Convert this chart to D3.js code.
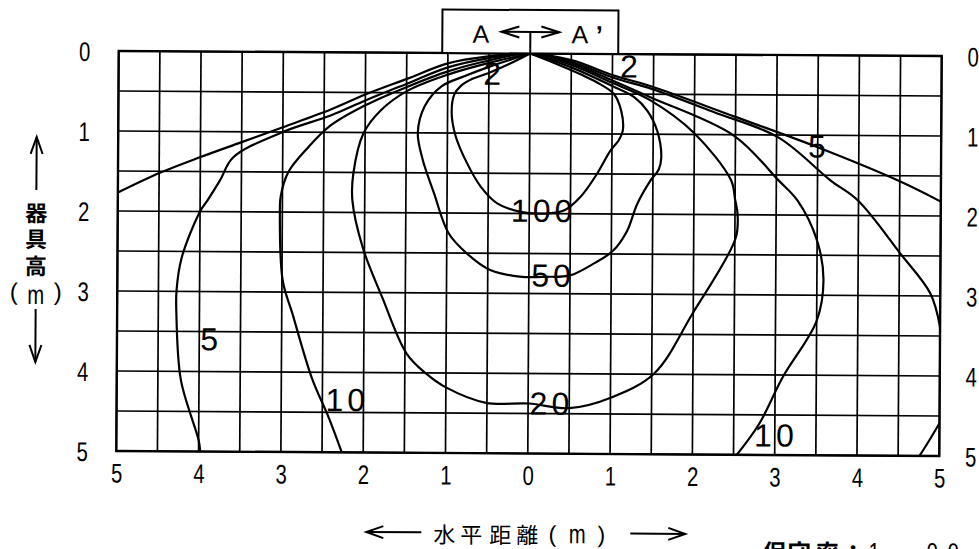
<!DOCTYPE html>
<html><head><meta charset="utf-8">
<script src="https://cdn.jsdelivr.net/npm/d3@7/dist/d3.min.js"></script>
<style>body{margin:0;background:#fff}svg{display:block}</style>
</head><body>
<svg id="chart" width="979" height="549"></svg>
<script>
// ---------- data ----------
const xTicks = [-5,-4,-3,-2,-1,0,1,2,3,4,5];
const yTicks = [0,1,2,3,4,5];

// isolux contours: [horizontal distance (m), height below fixture (m)]
const contour2 = [[-5,1.77],[-4.49,1.52],[-4.0,1.32],[-3.5,1.13],[-3.0,0.94],[-2.42,0.715],[-2.0,0.525],[-1.48,0.32],[-1.0,0.13],[-0.51,0.04],[0,0],[0.5,0.08],[1.02,0.27],[1.47,0.40],[2.48,0.77],[3.5,1.15],[4.48,1.56],[5.0,1.82]];
const contour5 = [[-3.98,5.0],[-4.0,4.86],[-4.22,4.11],[-4.28,3.28],[-4.28,2.99],[-4.22,2.58],[-4.0,2.0],[-3.91,1.86],[-3.76,1.61],[-3.6,1.32],[-3.0,1.0],[-2.42,0.79],[-2.0,0.60],[-1.48,0.38],[-1.0,0.18],[-0.5,0.06],[0,0],[0.5,0.10],[1.02,0.30],[1.47,0.43],[2.24,0.72],[3.02,1.03],[3.66,1.565],[3.99,1.81],[4.51,2.47],[4.88,2.97],[5.0,3.39]];
const contour5Corner = [[5.0,4.59],[4.88,4.80],[4.76,5.0]];
const contour10 = [[-2.26,5.0],[-2.42,4.57],[-2.63,4.07],[-2.87,3.27],[-2.99,2.86],[-3.03,2.05],[-3.02,1.8],[-2.93,1.5],[-2.7,1.2],[-2.42,0.915],[-2.0,0.66],[-1.5,0.43],[-1.0,0.23],[-0.5,0.09],[0,0],[0.5,0.12],[1.0,0.33],[1.47,0.54],[2.48,1.01],[3.03,1.57],[3.26,1.82],[3.5,2.32],[3.58,2.81],[3.5,3.32],[3.09,4.03],[2.81,4.61],[2.54,5.0]];
const contour20 = [[0,0],[-0.5,0.12],[-1.0,0.27],[-1.48,0.47],[-1.81,0.72],[-2.02,1.01],[-2.14,1.51],[-2.15,1.85],[-2.02,2.44],[-1.78,3.06],[-1.48,3.76],[-1.24,4.01],[-1.0,4.18],[-0.51,4.37],[0.01,4.375],[0.5,4.43],[1.02,4.29],[1.53,3.99],[1.99,3.24],[2.51,2.29],[2.53,1.98],[2.50,1.81],[2.45,1.57],[1.99,0.975],[1.47,0.58],[1.0,0.36],[0.5,0.14],[0,0]];
const contour50 = [[0,0],[-0.5,0.17],[-0.8,0.29],[-1.08,0.42],[-1.28,0.67],[-1.36,1.0],[-1.30,1.33],[-1.16,1.75],[-0.98,2.25],[-0.76,2.5],[-0.47,2.71],[-0.11,2.79],[0.21,2.79],[0.5,2.77],[0.78,2.625],[1.02,2.46],[1.19,2.21],[1.31,1.875],[1.47,1.58],[1.57,1.44],[1.60,1.29],[1.55,0.96],[1.43,0.71],[1.27,0.54],[1.0,0.40],[0.5,0.17],[0,0]];
const contour100 = [[0,0],[-0.25,0.13],[-0.51,0.25],[-0.70,0.32],[-0.84,0.41],[-0.92,0.52],[-0.95,0.75],[-0.90,1.04],[-0.76,1.375],[-0.59,1.67],[-0.39,1.875],[-0.11,1.98],[0.17,2.0],[0.42,1.96],[0.62,1.79],[0.82,1.5],[0.98,1.21],[1.08,1.08],[1.13,0.96],[1.11,0.71],[1.02,0.5],[0.82,0.36],[0.62,0.26],[0.30,0.12],[0,0]];
const contours = [contour2, contour5, contour5Corner, contour10, contour20, contour50, contour100];

// contour value labels: [text, x (m), y (m)] (label centre)
const contourLabels = [["100",0.15,1.96],["50",0.27,2.77],["20",0.26,4.37],["10",-2.22,4.34],["10",2.99,4.75],["5",-3.88,3.59],["5",3.49,1.135],["2",1.2,0.15],["2",-0.46,0.25]];

// ---------- drawing ----------
const svg = d3.select("#chart");
svg.append("rect").attr("width",979).attr("height",549).attr("fill","#fff");
const root = svg.append("g").attr("transform","rotate(0.35 529 254)");

const x = d3.scaleLinear().domain([-5,5]).range([117.5,940.5]);
const y = d3.scaleLinear().domain([0,5]).range([53.5,453.5]);
const NUM = "'Liberation Sans', Arial, sans-serif";
const CJK = "'Noto Sans CJK JP', 'Noto Sans CJK SC', sans-serif";

// grid
const grid = root.append("g").attr("stroke","#000").attr("stroke-width",1.7);
grid.selectAll("line.v").data(x.ticks(20)).join("line").attr("class","v")
  .attr("x1",d=>x(d)).attr("x2",d=>x(d)).attr("y1",y(0)).attr("y2",y(5));
grid.selectAll("line.h").data(y.ticks(10)).join("line").attr("class","h")
  .attr("y1",d=>y(d)).attr("y2",d=>y(d)).attr("x1",x(-5)).attr("x2",x(5));
root.append("rect").attr("x",x(-5)).attr("y",y(0)).attr("width",x(5)-x(-5)).attr("height",y(5)-y(0))
  .attr("fill","none").attr("stroke","#000").attr("stroke-width",2.4);

// clip for contours
svg.append("defs").append("clipPath").attr("id","plotclip").append("rect")
  .attr("x",x(-5)).attr("y",y(0)-3).attr("width",x(5)-x(-5)).attr("height",y(5)-y(0)+3);

const line = d3.line().x(d=>x(d[0])).y(d=>y(d[1])).curve(d3.curveCatmullRom.alpha(0.5));
root.append("g").attr("clip-path","url(#plotclip)")
  .selectAll("path").data(contours).join("path")
  .attr("d",line).attr("fill","none").attr("stroke","#000").attr("stroke-width",2.2)
  .attr("stroke-linejoin","round");

// contour labels
const LFS = 32, LS = 4;
root.append("g").selectAll("text").data(contourLabels).join("text")
  .attr("x",d=>x(d[1]) + LS/2).attr("y",d=>y(d[2]) + 0.36*LFS)
  .attr("text-anchor","middle").attr("font-family",NUM).attr("font-size",LFS)
  .attr("letter-spacing",LS).attr("fill","#000").text(d=>d[0]);

// axes (labels only)
const TFS = 27;
function styleAxis(g){
  g.select(".domain").remove();
  g.selectAll(".tick line").remove();
  g.selectAll(".tick text").attr("font-family",NUM).attr("font-size",TFS)
    .attr("fill","#000").attr("text-anchor","middle")
    .attr("transform","scale(0.75,1)");
}
const xAxis = d3.axisBottom(x).tickValues(xTicks).tickSize(0).tickFormat(d=>Math.abs(d));
root.append("g").attr("transform","translate(0,485)").call(xAxis).call(g=>{
  styleAxis(g); g.selectAll(".tick text").attr("y",0).attr("dy",0);
});
const yAxisL = d3.axisLeft(y).tickValues(yTicks).tickSize(0).tickFormat(d=>d);
root.append("g").attr("transform","translate(83.5,0)").call(yAxisL).call(g=>{
  styleAxis(g); g.selectAll(".tick text").attr("x",0).attr("dy",0).attr("y",0.36*TFS);
});
const yAxisR = d3.axisRight(y).tickValues(yTicks).tickSize(0).tickFormat(d=>d);
root.append("g").attr("transform","translate(972,0)").call(yAxisR).call(g=>{
  styleAxis(g); g.selectAll(".tick text").attr("x",0).attr("dy",0).attr("y",0.36*TFS);
});

// top box A <-> A'
root.append("rect").attr("x",441).attr("y",10).attr("width",176).attr("height",y(0)-10)
  .attr("fill","#fff").attr("stroke","#000").attr("stroke-width",2);
const topG = root.append("g").attr("stroke","#000").attr("fill","none").attr("stroke-width",2);
topG.append("line").attr("x1",500).attr("x2",558).attr("y1",32).attr("y2",32);
topG.append("polyline").attr("points","518,26.5 500,32 518,37.5");
topG.append("polyline").attr("points","540,26.5 558,32 540,37.5");
topG.append("line").attr("x1",x(0)).attr("x2",x(0)).attr("y1",32).attr("y2",y(0));
root.append("text").attr("x",479.5).attr("y",43).attr("text-anchor","middle")
  .attr("font-family",NUM).attr("font-size",25).text("A");
root.append("text").attr("x",578.5).attr("y",43).attr("text-anchor","middle")
  .attr("font-family",NUM).attr("font-size",25).text("A");
root.append("text").attr("x",598).attr("y",43).attr("text-anchor","middle")
  .attr("font-family",NUM).attr("font-size",25).attr("font-weight","bold").text("’");

// left title
const lt = root.append("g").attr("stroke","#000").attr("fill","none").attr("stroke-width",2);
lt.append("line").attr("x1",36).attr("x2",36).attr("y1",140).attr("y2",193);
lt.append("polyline").attr("points","30,157 36,140 42,157");
lt.append("line").attr("x1",36).attr("x2",36).attr("y1",312).attr("y2",365);
lt.append("polyline").attr("points","30,348 36,365 42,348");
[["器",216],["具",242],["高",269]].forEach(([c,cy])=>{
  root.append("text").attr("x",36).attr("y",cy+8.4).attr("text-anchor","middle")
    .attr("font-family",CJK).attr("font-size",22).attr("font-weight","bold").text(c);
});
root.append("text").attr("x",14).attr("y",303).attr("text-anchor","middle")
  .attr("font-family",NUM).attr("font-size",24).text("(");
root.append("text").attr("x",58).attr("y",303).attr("text-anchor","middle")
  .attr("font-family",NUM).attr("font-size",24).text(")");
root.append("g").attr("transform","translate(36,307) scale(0.75,1)").append("text")
  .attr("text-anchor","middle").attr("font-family",NUM).attr("font-size",27).text("m");

// bottom title
const bt = root.append("g").attr("stroke","#000").attr("fill","none").attr("stroke-width",2);
bt.append("line").attr("x1",368).attr("x2",423).attr("y1",533).attr("y2",533);
bt.append("polyline").attr("points","385,527 368,533 385,539");
bt.append("line").attr("x1",632).attr("x2",687).attr("y1",533).attr("y2",533);
bt.append("polyline").attr("points","670,527 687,533 670,539");
[["水",446],["平",473],["距",502],["離",529]].forEach(([c,cx])=>{
  root.append("text").attr("x",cx).attr("y",543.4).attr("text-anchor","middle")
    .attr("font-family",CJK).attr("font-size",22).text(c);
});
root.append("text").attr("x",554).attr("y",542).attr("text-anchor","middle")
  .attr("font-family",NUM).attr("font-size",23).text("(");
root.append("text").attr("x",603).attr("y",542).attr("text-anchor","middle")
  .attr("font-family",NUM).attr("font-size",23).text(")");
root.append("g").attr("transform","translate(579,543) scale(0.75,1)").append("text")
  .attr("text-anchor","middle").attr("font-family",NUM).attr("font-size",27).text("m");

// maintenance factor note (cut off at bottom edge, as in the reference)
[["保",776],["守",801],["率",829],["：",855]].forEach(([c,cx])=>{
  root.append("text").attr("x",cx).attr("y",560).attr("text-anchor","middle")
    .attr("font-family",CJK).attr("font-size",24).attr("font-weight","bold").text(c);
});
[["1",876],["．",903],["0",934],["0",955]].forEach(([c,cx])=>{
  root.append("g").attr("transform",`translate(${cx},559.4) scale(0.75,1)`).append("text")
    .attr("text-anchor","middle").attr("font-family",NUM).attr("font-size",27).text(c);
});
</script>
</body></html>
